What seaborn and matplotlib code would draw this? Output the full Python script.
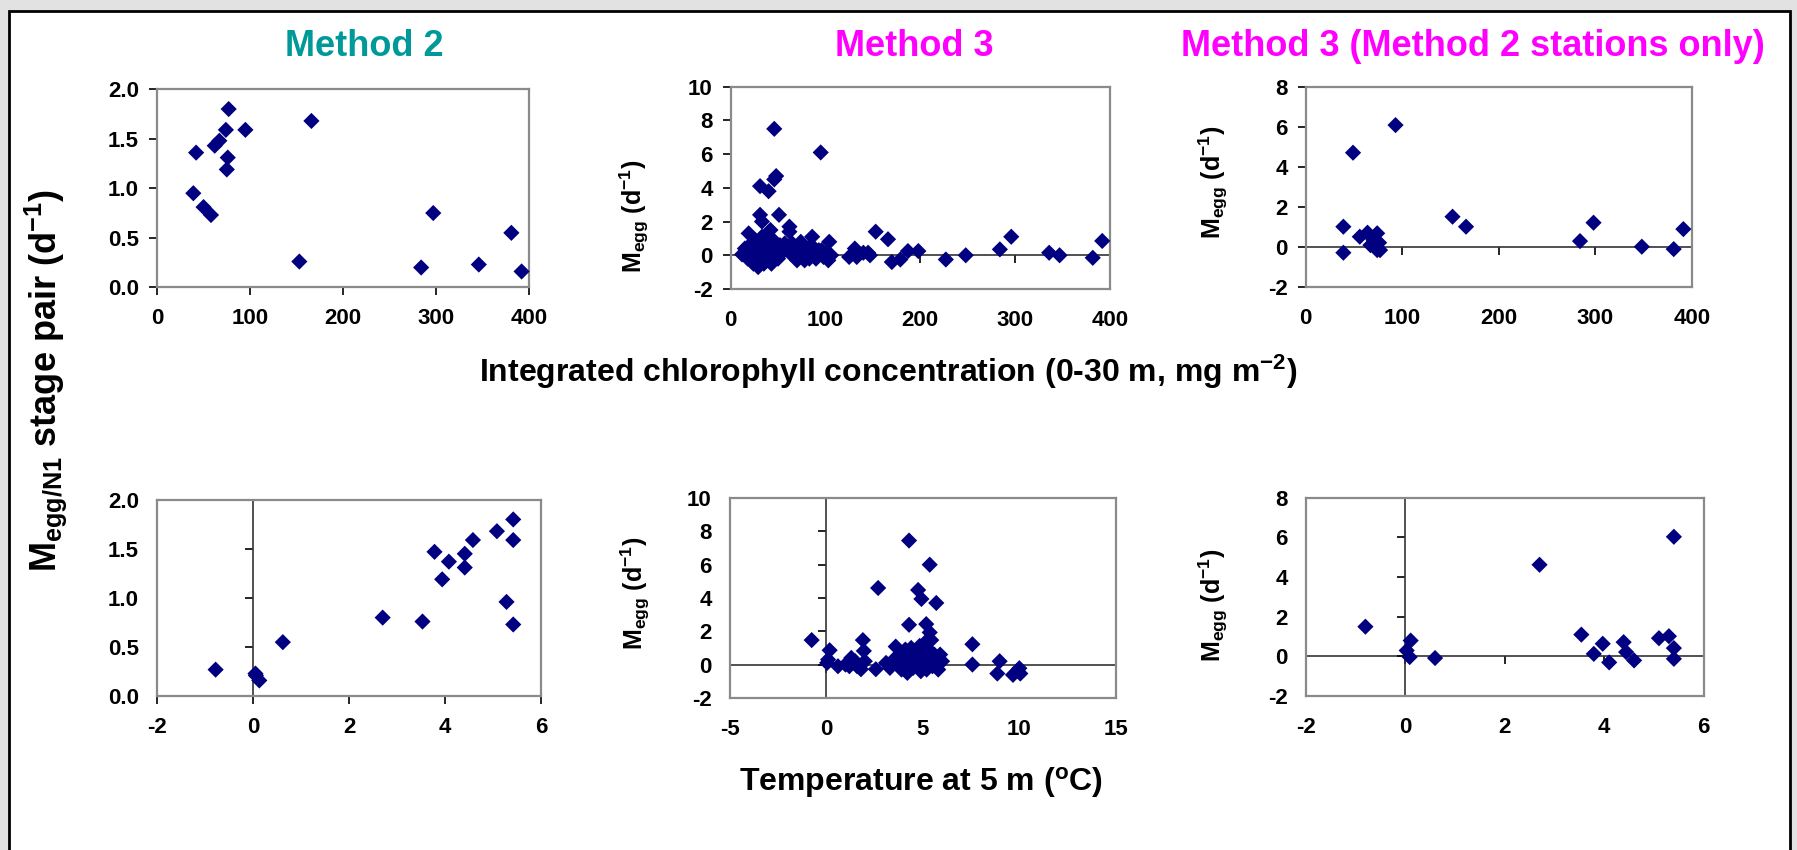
import matplotlib
matplotlib.use("Agg")
import matplotlib.pyplot as plt
from matplotlib.patches import Rectangle
import seaborn as sns
import pandas as pd

# ---------------- data ----------------
# Method 2 : M_egg/N1 vs integrated chlorophyll
m2_chl_x = [77, 166, 74, 95, 67, 62, 42, 76, 75, 39, 50, 58, 153, 297, 381, 284, 346, 392]
m2_chl_y = [1.80, 1.68, 1.59, 1.59, 1.48, 1.43, 1.36, 1.31, 1.19, 0.95, 0.81, 0.73, 0.26, 0.75, 0.55, 0.20, 0.23, 0.16]

# Method 2 : M_egg/N1 vs temperature
m2_t_x = [-0.78, 0.06, 0.13, 0.05, 0.62, 2.70, 3.53, 3.78, 4.08, 3.94, 4.41, 4.41, 4.58, 5.08, 5.42, 5.42, 5.28, 5.42]
m2_t_y = [0.27, 0.21, 0.16, 0.23, 0.55, 0.80, 0.76, 1.47, 1.37, 1.19, 1.45, 1.31, 1.59, 1.68, 1.80, 1.59, 0.96, 0.73]

# Method 3 : M_egg vs integrated chlorophyll
m3_chl_x = [46, 95, 48, 46, 31, 40, 31, 51, 33, 62, 62, 42, 19, 33, 86, 104, 153, 166, 296, 284,
            392, 187, 198, 170, 179, 227, 248, 336, 347, 382, 125, 131, 133, 140, 145, 147,
            12, 15, 18, 20, 22, 24, 26, 27, 29, 30, 31, 33, 34, 35, 36, 38, 40, 41, 43, 44,
            45, 47, 49, 50, 52, 55, 57, 60, 63, 65, 68, 70, 72, 74, 76, 78, 80, 83, 85, 88,
            90, 93, 96, 98, 100, 103, 106]
m3_chl_y = [7.5, 6.1, 4.7, 4.5, 4.1, 3.8, 2.4, 2.4, 2.0, 1.7, 1.4, 1.5, 1.3, 1.1, 1.1, 0.8, 1.4, 0.95, 1.1, 0.35,
            0.85, 0.25, 0.25, -0.4, -0.25, -0.25, 0.0, 0.15, 0.0, -0.15, -0.1, 0.4, -0.1, 0.15, 0.15, 0.0,
            0.05, 0.4, -0.2, 0.6, 0.2, -0.5, 0.9, 0.0, -0.7, 0.5, -0.3, 0.2, 0.6, -0.5, 1.0, 0.1, -0.2, 0.7, -0.5, 0.3,
            0.9, 0.0, 0.4, -0.2, 0.6, 0.2, 0.7, 0.5, 0.1, 0.7, 0.3, -0.3, 0.0, 0.8, 0.4, -0.3, 0.1, -0.2, 0.6, 0.0,
            -0.2, 0.3, 0.3, -0.1, 0.1, -0.3, 0.0]

# Method 3 : M_egg vs temperature
m3_t_x = [-0.75, 0.18, 0.05, 0.10, 0.61, 1.0, 1.3, 1.5, 1.6, 1.2, 1.9, 1.95, 1.8, 2.0, 2.57, 2.69, 3.1, 3.3,
          3.6, 3.5, 3.8, 3.9, 4.0, 4.1, 4.2, 4.3, 4.29, 4.29, 4.4, 4.5, 4.6, 4.7, 4.76, 4.84, 4.9, 4.93,
          5.0, 5.1, 5.1, 5.18, 5.2, 5.3, 5.36, 5.36, 5.4, 5.44, 5.5, 5.6, 5.7, 5.7, 5.8, 5.9, 6.0,
          7.57, 7.57, 8.98, 8.86, 9.67, 10.0, 10.05, 9.9, 4.6, 5.0, 3.7]
m3_t_y = [1.47, 0.86, 0.10, 0.30, -0.10, 0.0, 0.4, 0.2, -0.1, -0.1, 1.47, 0.82, -0.28, 0.2, -0.28, 4.6, 0.1, -0.2,
          1.08, 0.3, 0.6, -0.3, 0.2, 0.9, -0.5, 0.4, 7.45, 2.39, 1.0, -0.2, 0.5, 0.0, 4.48, 1.12, -0.4, 3.94,
          0.7, 1.3, 0.2, 2.43, -0.3, 0.9, 6.0, 1.93, 0.4, 1.47, -0.1, 0.6, 3.7, 0.0, -0.3, 0.6, 0.2,
          1.22, 0.0, 0.2, -0.54, -0.62, -0.22, -0.54, -0.38, 0.8, -0.1, 0.1]

# Method 3 (Method 2 stations only) : M_egg vs integrated chlorophyll
m3s_chl_x = [93, 49, 39, 39, 56, 64, 74, 67, 76, 74, 77, 152, 166, 284, 298, 348, 381, 391, 70]
m3s_chl_y = [6.08, 4.70, 1.00, -0.30, 0.50, 0.70, 0.67, 0.08, 0.20, -0.17, -0.17, 1.50, 1.00, 0.28, 1.20, 0.00, -0.12, 0.88, 0.35]

# Method 3 (Method 2 stations only) : M_egg vs temperature
m3s_t_x = [-0.8, 0.11, 0.03, 0.09, 0.6, 2.7, 3.54, 3.79, 3.97, 4.1, 4.39, 4.44, 4.6, 5.1, 5.3, 5.4, 5.4, 5.4]
m3s_t_y = [1.5, 0.8, 0.3, -0.03, -0.08, 4.62, 1.1, 0.13, 0.64, -0.3, 0.72, 0.22, -0.2, 0.92, 1.02, 6.03, 0.42, -0.12]

titles = ["Method 2", "Method 3", "Method 3 (Method 2 stations only)"]
title_colors = ["#009999", "#FF00FF", "#FF00FF"]

chl_ticks = [0, 100, 200, 300, 400]
temp_ticks_a = [-2, 0, 2, 4, 6]
temp_ticks_b = [-5, 0, 5, 10, 15]
m2_yticks = [0.0, 0.5, 1.0, 1.5, 2.0]
m3_yticks = [-2, 0, 2, 4, 6, 8, 10]
m3s_yticks = [-2, 0, 2, 4, 6, 8]

# ---------------- style ----------------
sns.set_style("white")
plt.rcParams["font.family"] = ["Liberation Sans", "DejaVu Sans"]
plt.rcParams["font.weight"] = "bold"
plt.rcParams["text.color"] = "black"
plt.rcParams["axes.labelcolor"] = "black"
plt.rcParams["xtick.color"] = "black"
plt.rcParams["ytick.color"] = "black"
plt.rcParams["mathtext.fontset"] = "custom"
plt.rcParams["mathtext.rm"] = "Liberation Sans:bold"
plt.rcParams["mathtext.it"] = "Liberation Sans:bold"
plt.rcParams["mathtext.bf"] = "Liberation Sans:bold"
plt.rcParams["mathtext.sf"] = "Liberation Sans:bold"

fig = plt.figure(figsize=(17.97, 8.5), dpi=100, facecolor="#e2e2e2")
fig.patches.append(Rectangle((0.005, -0.02), 0.991, 1.007, transform=fig.transFigure,
                             facecolor="white", edgecolor="black", lw=2.0, zorder=-10))

FRAME = "#8a8a8a"
MARK = "#000080"


def fmt(v, dec):
    return f"{v:.{dec}f}"


def panel(rect, xs, ys, xticks, yticks, ydec, ylabel=None, ylab_pos=(-0.24, 0.5)):
    ax = fig.add_axes(rect)
    ax.set_facecolor("white")
    df = pd.DataFrame({"x": xs, "y": ys})
    sns.scatterplot(data=df, x="x", y="y", marker="D", s=68, color=MARK,
                    edgecolor="none", linewidth=0, ax=ax, zorder=3, clip_on=False)
    ax.set_xlim(xticks[0], xticks[-1])
    ax.set_ylim(yticks[0], yticks[-1])
    ax.set_xticks(xticks)
    ax.set_yticks(yticks)
    ax.set_xticklabels([fmt(v, 0) for v in xticks])
    ax.set_yticklabels([fmt(v, ydec) for v in yticks])
    ax.tick_params(length=0, labelsize=16, colors="black")
    ax.tick_params(axis="x", pad=15)
    ax.tick_params(axis="y", pad=13)
    for lab in ax.get_xticklabels() + ax.get_yticklabels():
        lab.set_fontweight("bold")
    for sp in ax.spines.values():
        sp.set_color(FRAME)
        sp.set_linewidth(1.6)
    ax.set_xlabel("")
    ax.set_ylabel("")
    # zero-crossing axes with tick marks
    fy = (0 - yticks[0]) / (yticks[-1] - yticks[0])
    fx = (0 - xticks[0]) / (xticks[-1] - xticks[0])
    sx = ax.secondary_xaxis(fy)
    sx.set_xticks(xticks)
    sx.tick_params(direction="out", length=6, width=1.2, color="black", labelbottom=False, labeltop=False)
    for sp in sx.spines.values():
        sp.set_color("#333333")
        sp.set_linewidth(1.2)
    sy = ax.secondary_yaxis(fx)
    sy.set_yticks(yticks)
    sy.tick_params(direction="out", length=6, width=1.2, color="black", labelleft=False, labelright=False)
    for sp in sy.spines.values():
        sp.set_color("#333333")
        sp.set_linewidth(1.2)
    if ylabel:
        ax.set_ylabel(ylabel, fontsize=18, fontweight="bold", color="black")
        ax.yaxis.set_label_coords(*ylab_pos)
    return ax


megg = r"M$_{egg}$ (d$^{-1}$)"

panel([0.0874, 0.662, 0.207, 0.233], m2_chl_x, m2_chl_y, chl_ticks, m2_yticks, 1)
panel([0.4066, 0.660, 0.211, 0.238], m3_chl_x, m3_chl_y, chl_ticks, m3_yticks, 0, megg, (-0.21, 0.36))
panel([0.7266, 0.6627, 0.215, 0.2353], m3s_chl_x, m3s_chl_y, chl_ticks, m3s_yticks, 0, megg, (-0.196, 0.52))
panel([0.0874, 0.181, 0.2137, 0.231], m2_t_x, m2_t_y, temp_ticks_a, m2_yticks, 1)
panel([0.406, 0.179, 0.215, 0.235], m3_t_x, m3_t_y, temp_ticks_b, m3_yticks, 0, megg, (-0.2, 0.525))
panel([0.7266, 0.181, 0.2215, 0.2335], m3s_t_x, m3s_t_y, temp_ticks_a, m3s_yticks, 0, megg, (-0.19, 0.46))

title_x = [0.2025, 0.509, 0.8196]
for t, c, x in zip(titles, title_colors, title_x):
    fig.text(x, 0.945, t, color=c, fontsize=26, fontweight="bold", ha="center", va="center")

fig.text(0.494, 0.562, r"Integrated chlorophyll concentration (0-30 m, mg m$^{-2}$)",
         fontsize=23, fontweight="bold", ha="center", va="center")
fig.text(0.5125, 0.079, r"Temperature at 5 m ($^{o}$C)",
         fontsize=23, fontweight="bold", ha="center", va="center")
fig.text(0.0256, 0.552, r"M$_{egg/N1}$ stage pair (d$^{-1}$)",
         fontsize=26, fontweight="bold", rotation=90, ha="center", va="center")

fig.savefig("out.png", dpi=100, facecolor=fig.get_facecolor())
